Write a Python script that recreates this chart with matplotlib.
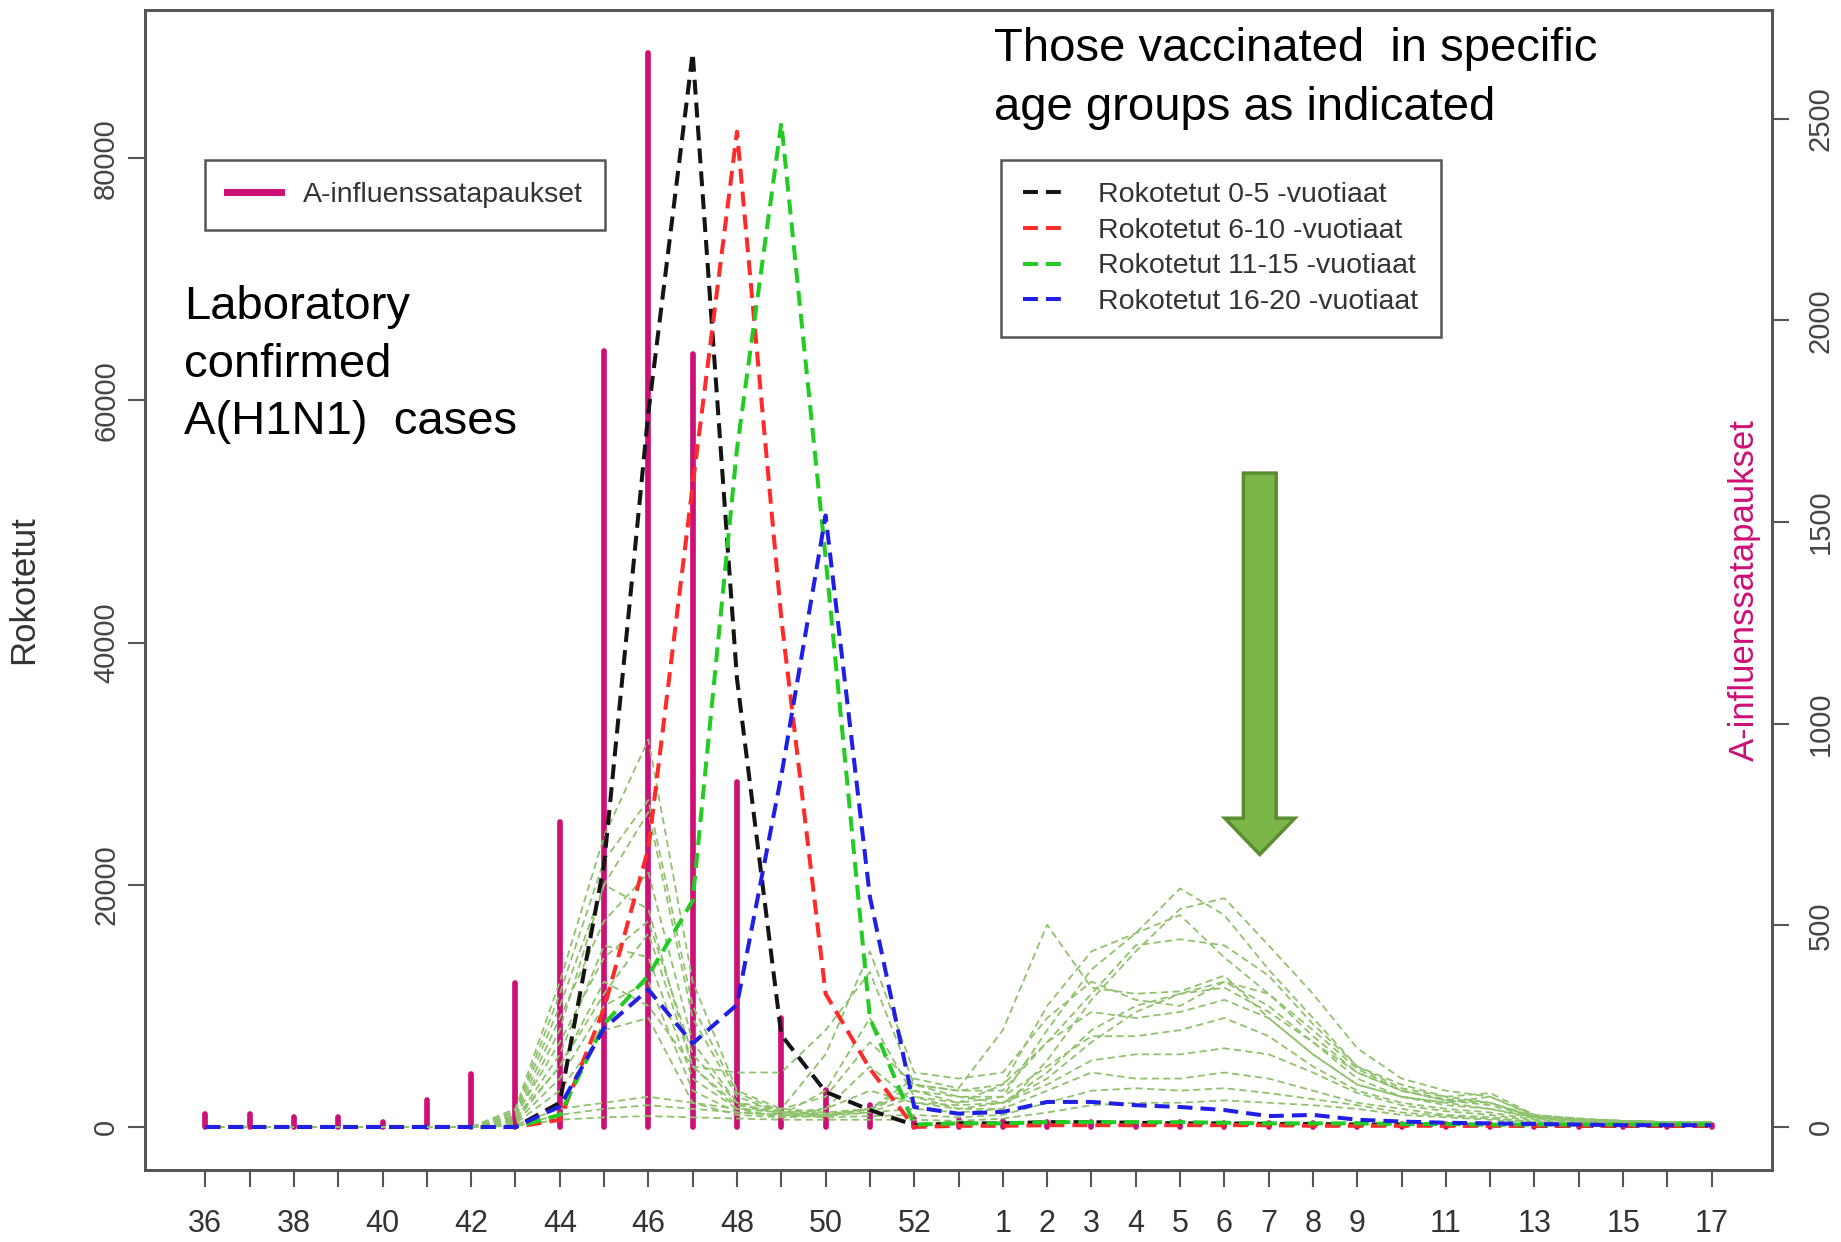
import matplotlib.pyplot as plt
from matplotlib.lines import Line2D
from matplotlib.patches import Polygon

plt.rcParams['font.family'] = ['Liberation Sans', 'DejaVu Sans']

# ISO weeks 36/2009 .. 17/2010 (2009 had a week 53)
weeks = list(range(36, 54)) + list(range(1, 18))
shown_weeks = [36, 38, 40, 42, 44, 46, 48, 50, 52, 1, 2, 3, 4, 5, 6, 7, 8, 9, 11, 13, 15, 17]

# laboratory confirmed A(H1N1) cases per week (right axis)
cases = [32, 32, 25, 25, 13, 67, 131, 356, 755, 1923, 2663, 1917, 856, 270, 92, 55, 20, 18,
         15, 12, 12, 10, 12, 10, 10, 10, 8, 8, 8, 8, 6, 6, 5, 5, 5]

# vaccinated per week, by age group (left axis)
vacc_0_5 = [0, 0, 0, 0, 0, 0, 0, 0, 2000, 21700, 59000, 88700, 37000, 7600, 2900, 1400, 150, 300,
            300, 400, 400, 350, 300, 300, 250, 250, 200, 200, 150, 150, 100, 100, 100, 100, 100]
vacc_6_10 = [0, 0, 0, 0, 0, 0, 0, 0, 600, 9800, 23000, 53000, 82200, 42000, 11000, 4800, 0, 100,
             100, 150, 150, 150, 150, 150, 150, 100, 100, 100, 100, 100, 100, 100, 100, 100, 100]
vacc_11_15 = [0, 0, 0, 0, 0, 0, 0, 0, 1000, 8500, 12500, 18700, 56000, 82900, 47000, 9000, 200, 300,
              300, 400, 400, 400, 400, 350, 300, 300, 300, 250, 250, 200, 200, 200, 200, 200, 200]
vacc_16_20 = [0, 0, 0, 0, 0, 0, 0, 0, 1700, 8150, 11350, 6900, 10100, 29000, 50500, 19000, 1650, 1100,
              1250, 2070, 2070, 1800, 1650, 1400, 900, 1000, 600, 450, 350, 300, 250, 200, 150, 150, 150]

# the older age groups, drawn without a legend entry
older_groups = [
    [0] * 7 + [1500, 12000, 24000, 32000, 12000, 3000, 1500, 1200, 1500, 4000, 3200,
               8000, 16700, 11500, 11000, 11200, 12500, 9000, 6000, 3500,
               2500, 2000, 1500, 800, 600, 500, 400, 400],
    [0] * 7 + [1200, 10000, 20000, 26000, 9000, 2500, 1200, 1000, 1500, 3500, 2500,
               2500, 8000, 13000, 16000, 19700, 17500, 13000, 9000, 5000,
               3500, 2500, 2000, 900, 600, 500, 400, 400],
    [0] * 7 + [1000, 9000, 17000, 21000, 7000, 2000, 1000, 900, 1200, 2500, 1500,
               1500, 5500, 10500, 14500, 18000, 18900, 15000, 11000, 6500,
               4000, 3000, 2500, 1000, 700, 500, 400, 400],
    [0] * 7 + [800, 8000, 20000, 18000, 5000, 1500, 800, 900, 1500, 3000, 2000,
               3500, 10000, 14500, 16000, 17500, 14000, 11000, 7500, 4500,
               3000, 2200, 2000, 800, 600, 500, 400, 400],
    [0] * 7 + [600, 6000, 15000, 14000, 4000, 1500, 1500, 6000, 14500, 4500, 4000,
               4500, 9000, 12000, 10500, 10000, 12000, 10000, 7000, 4000,
               2500, 2000, 2500, 900, 600, 500, 400, 400],
    [0] * 7 + [500, 5000, 12000, 10000, 5000, 4500, 4500, 8000, 12800, 3500, 3000,
               3500, 7000, 9500, 9000, 9500, 10500, 9000, 6000, 3500,
               2500, 1800, 1500, 700, 500, 400, 400, 300],
    [0] * 7 + [400, 4000, 10000, 12000, 3000, 1200, 1000, 3000, 9000, 2500, 2000,
               2500, 5000, 7500, 7500, 8000, 9000, 7500, 5000, 3000,
               2000, 1500, 1200, 600, 500, 400, 300, 300],
    [0] * 7 + [300, 3000, 8000, 9000, 2000, 1000, 800, 1500, 5000, 2000, 1500,
               2000, 3500, 5500, 6000, 6000, 6500, 6000, 4500, 2800,
               1800, 1300, 1000, 500, 400, 300, 300, 300],
    [0] * 7 + [200, 1500, 2000, 2500, 2000, 1500, 1200, 1000, 1200, 1500, 1200,
               1500, 3000, 4500, 4000, 4000, 4500, 4000, 3000, 2000,
               1500, 1000, 800, 400, 300, 300, 300, 300],
    [0] * 7 + [100, 1000, 1500, 1800, 1500, 1200, 1000, 800, 900, 1000, 800,
               1000, 2000, 3000, 3200, 3000, 3200, 2800, 2300, 1800,
               1200, 900, 700, 400, 300, 300, 200, 200],
    [0] * 7 + [100, 600, 800, 900, 800, 700, 600, 600, 600, 600, 500,
               700, 1200, 1800, 2000, 2000, 2200, 2000, 1800, 1500,
               1000, 800, 600, 300, 300, 200, 200, 200],
    [0] * 7 + [1300, 11000, 22000, 27000, 10000, 2800, 1300, 1100, 1400, 3000, 2500,
               2000, 4000, 7000, 9500, 11000, 11500, 9500, 7000, 4500,
               3000, 2200, 1800, 800, 600, 500, 400, 400],
    [0] * 7 + [900, 7000, 14000, 17000, 6000, 2000, 1500, 2500, 7000, 3500, 3000,
               3000, 7000, 11000, 15000, 15500, 15000, 12500, 8500, 5000,
               3200, 2500, 2800, 1000, 700, 500, 400, 400],
    [0] * 7 + [700, 5000, 11000, 16000, 5000, 1800, 1200, 1500, 3000, 2000, 1800,
               2000, 4500, 8000, 10000, 11000, 12000, 11000, 8000, 4800,
               3000, 2300, 2000, 800, 600, 500, 400, 300],
]

group_labels = ['Rokotetut 0-5 -vuotiaat', 'Rokotetut 6-10 -vuotiaat',
                'Rokotetut 11-15 -vuotiaat', 'Rokotetut 16-20 -vuotiaat']
group_colors = ['#141414', '#ff2a2a', '#22cc22', '#1f1fe6']
MAGENTA = '#cd1076'
GREY = '#555555'

fig = plt.figure(figsize=(18.41, 12.42), dpi=100)
ax = fig.add_axes([0.0788, 0.058, 0.8837, 0.934])
ax2 = ax.twinx()
x = list(range(len(weeks)))

# weekly cases as thick spikes on the right axis
ax2.vlines(x, 0, cases, colors=MAGENTA, linewidth=4.1, capstyle='round')

for row in older_groups:
    ax.plot(x, row, color='#8fc26c', lw=1.3, dashes=(4.0, 2.4))

series = [vacc_0_5, vacc_6_10, vacc_11_15, vacc_16_20]
for vals, col in zip(series, group_colors):
    ax.plot(x, vals, color=col, lw=2.9, dashes=(3.7, 2.0))

# R style axis ranges: 4 % padding on each side
left_max = max(max(s) for s in series + older_groups)
ax.set_xlim(-0.04 * (len(x) - 1), (len(x) - 1) * 1.04)
ax.set_ylim(-0.04 * left_max, 1.04 * left_max)
ax2.set_ylim(-0.04 * max(cases), 1.04 * max(cases))

ax.set_zorder(2)
ax2.set_zorder(1)
ax.patch.set_visible(False)

ax.set_xticks(x)
ax.set_xticklabels([str(w) if w in shown_weeks else '' for w in weeks])
ax.tick_params(axis='x', labelsize=22, pad=16, length=12, width=1.5, color=GREY, labelcolor='#333333')

left_ticks = [0, 20000, 40000, 60000, 80000]
ax.set_yticks(left_ticks)
ax.set_yticklabels([str(t) for t in left_ticks])
ax.tick_params(axis='y', labelrotation=90, labelsize=21, pad=6, length=12, width=1.5,
               color=GREY, labelcolor='#444444')
for lbl in ax.get_yticklabels():
    lbl.set_va('center')

right_ticks = [0, 500, 1000, 1500, 2000, 2500]
ax2.set_yticks(right_ticks)
ax2.set_yticklabels([str(t) for t in right_ticks])
ax2.tick_params(axis='y', labelrotation=90, labelsize=21, pad=13, length=12, width=1.5,
                color=GREY, labelcolor='#444444')
for lbl in ax2.get_yticklabels():
    lbl.set_va('center')

for a in (ax, ax2):
    for sp in a.spines.values():
        sp.set_color(GREY)
        sp.set_linewidth(2)

ax.set_ylabel('Rokotetut', fontsize=25, color='#333333')
ax.yaxis.set_label_coords(-0.0645, 0.5)
ax2.text(0.983, 0.5, 'A-influenssatapaukset', rotation=90, ha='center', va='center',
         color=MAGENTA, fontsize=25, transform=ax2.transAxes)

leg_font = {'size': 20.5}
leg1 = ax.legend([Line2D([], [], color=MAGENTA, lw=5)], ['A-influenssatapaukset'],
                 loc='upper left', bbox_to_anchor=(0.0369, 0.8707), borderaxespad=0,
                 fancybox=False, edgecolor=GREY, framealpha=1, handlelength=1.9,
                 handletextpad=0.75, borderpad=0.78, prop=leg_font)
leg1.get_frame().set_linewidth(1.8)
for t in leg1.get_texts():
    t.set_color('#333333')
ax.add_artist(leg1)

handles = [Line2D([], [], color=c, lw=2.9, dashes=(3.7, 2.0)) for c in group_colors]
leg2 = ax.legend(handles, group_labels, loc='upper left', bbox_to_anchor=(0.526, 0.8707),
                 borderaxespad=0, fancybox=False, edgecolor=GREY, framealpha=1,
                 handlelength=1.55, handletextpad=1.1, borderpad=0.78, labelspacing=0.34,
                 prop=leg_font)
leg2.get_frame().set_linewidth(1.8)
for t in leg2.get_texts():
    t.set_color('#333333')

# explanatory notes
ax.text(0.024, 0.7336, 'Laboratory', transform=ax.transAxes, fontsize=34, va='baseline')
ax.text(0.024, 0.6836, 'confirmed', transform=ax.transAxes, fontsize=34, va='baseline')
ax.text(0.024, 0.6345, 'A(H1N1)  cases', transform=ax.transAxes, fontsize=34, va='baseline')
ax.text(0.522, 0.956, 'Those vaccinated  in specific', transform=ax.transAxes, fontsize=34, va='baseline')
ax.text(0.522, 0.905, 'age groups as indicated', transform=ax.transAxes, fontsize=34, va='baseline')

# block arrow pointing at the second vaccination wave
ARROW_X = 23.8
ARROW_TOP = 54000
ARROW_NECK = 25500
ARROW_TIP = 22500
SHAFT_W = 0.37
HEAD_W = 0.79
arrow = Polygon([(ARROW_X - SHAFT_W, ARROW_TOP), (ARROW_X + SHAFT_W, ARROW_TOP),
                 (ARROW_X + SHAFT_W, ARROW_NECK), (ARROW_X + HEAD_W, ARROW_NECK),
                 (ARROW_X, ARROW_TIP), (ARROW_X - HEAD_W, ARROW_NECK),
                 (ARROW_X - SHAFT_W, ARROW_NECK)],
                closed=True, facecolor='#7ab648', edgecolor='#5b8c32', lw=2.5, zorder=5)
ax.add_patch(arrow)

fig.savefig('out.png', dpi=100)
